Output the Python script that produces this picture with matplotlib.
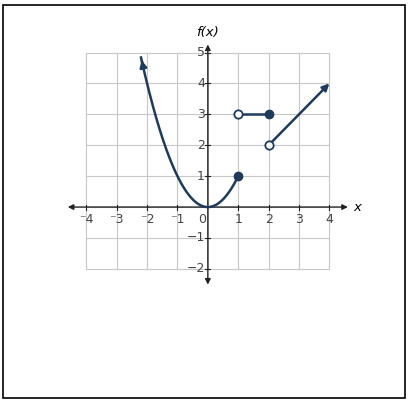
import numpy as np
import matplotlib.pyplot as plt
from matplotlib.patches import Rectangle

x_ticks = [-4, -3, -2, -1, 1, 2, 3, 4]
y_ticks = [-2, -1, 1, 2, 3, 4, 5]
para_x = np.linspace(-2.2, 1, 200)
para_y = para_x ** 2
flat_x = [1, 2]
flat_y = [3, 3]
line_x = [2, 4]
line_y = [2, 4]
closed_pts = [(1, 1), (2, 3)]
open_pts = [(1, 3), (2, 2)]

navy = '#1f3b5c'
fig = plt.figure(figsize=(4.09, 4.03), dpi=100)
ax = fig.add_axes([0, 0, 1, 1])
ax.set_xlim(-6.84, 6.62)
ax.set_ylim(-6.34, 6.7)
ax.axis('off')

# grid
for g in range(-4, 5):
    ax.plot([g, g], [-2, 5], color='#c8c8c8', lw=0.8, zorder=1)
for g in range(-2, 6):
    ax.plot([-4, 4], [g, g], color='#c8c8c8', lw=0.8, zorder=1)

# axes with arrows
ax.annotate('', xy=(4.7, 0), xytext=(-4.7, 0),
            arrowprops=dict(arrowstyle='<|-|>', color='#222', lw=1, mutation_scale=8), zorder=2)
ax.annotate('', xy=(0, 5.35), xytext=(0, -2.6),
            arrowprops=dict(arrowstyle='<|-|>', color='#222', lw=1, mutation_scale=8), zorder=2)
ax.text(4.8, 0, 'x', fontsize=9.5, style='italic', va='center', ha='left')
ax.text(0, 5.45, 'f(x)', fontsize=9.5, style='italic', va='bottom', ha='center')

for t in x_ticks:
    ax.plot([t, t], [-0.08, 0.08], color='#222', lw=0.8)
    ax.text(t, -0.2, str(t).replace('-', '⁻'), fontsize=9, ha='center', va='top', color='#444')
ax.text(-0.2, -0.2, '0', fontsize=9, ha='center', va='top', color='#444')
for t in y_ticks:
    ax.plot([-0.08, 0.08], [t, t], color='#222', lw=0.8)
    ax.text(-0.1, t, str(t).replace('-', '−'), fontsize=9, ha='right', va='center', color='#444')

# function pieces
ax.plot(para_x, para_y, color=navy, lw=1.8, zorder=3)
ax.annotate('', xy=(para_x[0], para_y[0]), xytext=(para_x[3], para_y[3]),
            arrowprops=dict(arrowstyle='-|>', color=navy, lw=1.8, mutation_scale=10), zorder=3)
ax.plot(flat_x, flat_y, color=navy, lw=1.8, zorder=3)
ax.annotate('', xy=(line_x[1], line_y[1]), xytext=(line_x[0], line_y[0]),
            arrowprops=dict(arrowstyle='-|>', color=navy, lw=1.8, mutation_scale=10,
                            shrinkA=0, shrinkB=0), zorder=3)
for px, py in closed_pts:
    ax.plot(px, py, 'o', color=navy, ms=6, zorder=4)
for px, py in open_pts:
    ax.plot(px, py, 'o', mfc='white', mec=navy, mew=1.3, ms=6, zorder=4)

fig.patches.append(Rectangle((0.008, 0.012), 0.982, 0.975, transform=fig.transFigure,
                             fill=False, edgecolor='black', lw=1.2))
fig.savefig('out.png', dpi=100)
